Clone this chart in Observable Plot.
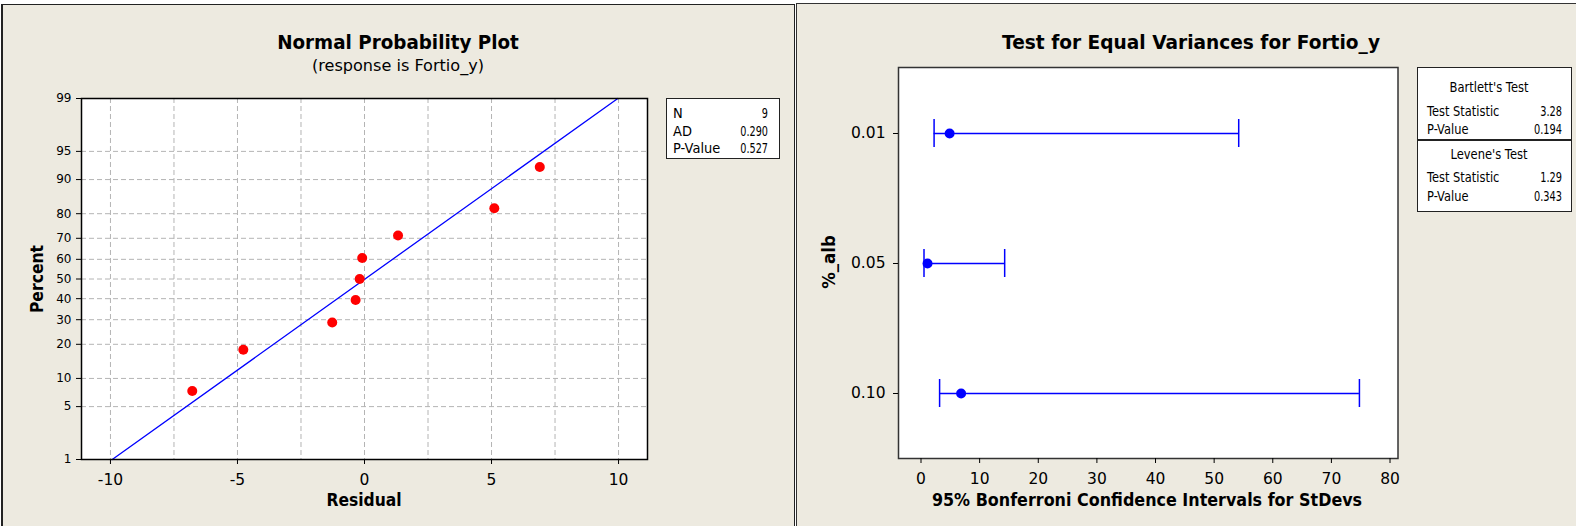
<!DOCTYPE html>
<html><head><meta charset="utf-8">
<script src="https://cdn.jsdelivr.net/npm/d3@7"></script>
<script src="https://cdn.jsdelivr.net/npm/@observablehq/plot@0.6"></script>
<style>
html,body{margin:0;padding:0;background:#fff;width:1576px;height:526px;overflow:hidden;font-family:"DejaVu Sans",sans-serif;}
.panel{position:absolute;box-sizing:border-box;background:#EDEAE0;}
.t{position:absolute;white-space:nowrap;line-height:1;color:#000;}
.b{font-weight:bold;}
.box{position:absolute;box-sizing:border-box;background:#fff;border:1px solid #222;}
.chart{position:absolute;top:0;}
</style></head><body>
<div class="panel" style="left:1px;top:4px;width:794px;height:522px;border-left:2px solid #222;border-top:1px solid #222;border-right:1px solid #222"></div>
<div class="panel" style="left:796px;top:3px;width:780px;height:523px;border-left:1px solid #333;border-top:1px solid #333"></div>
<div id="left" class="chart" style="left:0px"></div>
<div id="right" class="chart" style="left:796px"></div>
<div id="overlay"></div>
<script>
// ---------- data: normal probability plot ----------
const residuals = [-6.78, -4.77, -1.27, -0.35, -0.19, -0.09, 1.32, 5.11, 6.90];
const percents  = [7.45, 18.09, 28.72, 39.36, 50.00, 60.64, 71.28, 81.91, 92.55];
const fitResidual = [-9.93, 9.97];
const fitPercent  = [1, 99];
const yTickPercents = [1, 5, 10, 20, 30, 40, 50, 60, 70, 80, 90, 95, 99];
const xTicksLeft = [-10, -5, 0, 5, 10];
const xGridLeft = [-10, -7.5, -5, -2.5, 0, 2.5, 5, 7.5, 10];
const leftStatLabels = ["N", "AD", "P-Value"];
const leftStatValues = ["9", "0.290", "0.527"];

// ---------- data: test for equal variances ----------
const levels = ["0.01", "0.05", "0.10"];
const lowerCI = [2.23, 0.51, 3.17];
const stdevs  = [4.88, 1.11, 6.84];
const upperCI = [54.19, 14.27, 74.78];
const xTicksRight = [0, 10, 20, 30, 40, 50, 60, 70, 80];
const statLabels = ["Test Statistic", "P-Value"];
const bartlettValues = ["3.28", "0.194"];
const leveneValues = ["1.29", "0.343"];

// inverse normal CDF (Acklam) for the probability axis
function probit(p){
  const a=[-3.969683028665376e+01,2.209460984245205e+02,-2.759285104469687e+02,1.383577518672690e+02,-3.066479806614716e+01,2.506628277459239e+00];
  const b=[-5.447609879822406e+01,1.615858368580409e+02,-1.556989798598866e+02,6.680131188771972e+01,-1.328068155288572e+01];
  const c=[-7.784894002430293e-03,-3.223964580411365e-01,-2.400758277161838e+00,-2.549732539343734e+00,4.374664141464968e+00,2.938163982698783e+00];
  const d=[7.784695709041462e-03,3.224671290700398e-01,2.445134137142996e+00,3.754408661907416e+00];
  const pl=0.02425, ph=1-pl;
  if(p<pl){const q=Math.sqrt(-2*Math.log(p));return (((((c[0]*q+c[1])*q+c[2])*q+c[3])*q+c[4])*q+c[5])/((((d[0]*q+d[1])*q+d[2])*q+d[3])*q+1);}
  if(p<=ph){const q=p-0.5,r=q*q;return (((((a[0]*r+a[1])*r+a[2])*r+a[3])*r+a[4])*r+a[5])*q/(((((b[0]*r+b[1])*r+b[2])*r+b[3])*r+b[4])*r+1);}
  const q=Math.sqrt(-2*Math.log(1-p));return -(((((c[0]*q+c[1])*q+c[2])*q+c[3])*q+c[4])*q+c[5])/((((d[0]*q+d[1])*q+d[2])*q+d[3])*q+1);
}

const pts = residuals.map((r, i) => ({r, z: probit(percents[i] / 100)}));
const fit = fitResidual.map((r, i) => ({r, z: probit(fitPercent[i] / 100)}));
const zTicks = yTickPercents.map(p => probit(p / 100));
const zLabel = new Map(zTicks.map((z, i) => [z, String(yTickPercents[i])]));

const gridStyle = {stroke: "#b4b4b4", strokeOpacity: 1, strokeWidth: 1, strokeDasharray: "5,3"};

const leftPlot = Plot.plot({
  width: 790, height: 526,
  marginLeft: 81, marginRight: 143, marginTop: 98, marginBottom: 67,
  style: {background: "transparent", fontFamily: "DejaVu Sans", color: "#000", overflow: "visible"},
  x: {domain: [-11.14, 11.14]},
  y: {domain: [probit(0.01), probit(0.99)]},
  marks: [
    Plot.frame({fill: "#fff", stroke: null}),
    Plot.gridX(xGridLeft, gridStyle),
    Plot.gridY(zTicks.slice(1, -1), gridStyle),
    Plot.line(fit, {x: "r", y: "z", stroke: "#0000ff", strokeWidth: 1.3}),
    Plot.dot(pts, {x: "r", y: "z", r: 5, fill: "#ff0000", stroke: null}),
    Plot.frame({stroke: "#000", strokeWidth: 1.5}),
    Plot.axisX(xTicksLeft, {tickSize: 5, tickPadding: 9, fontSize: 15.5, tickFormat: d => String(d), label: null}),
    Plot.axisY(zTicks, {tickSize: 5, tickPadding: 5, fontSize: 12, tickFormat: z => zLabel.get(z), label: null})
  ]
});
document.getElementById("left").appendChild(leftPlot);

const rows = levels.map((level, i) => ({level, lo: lowerCI[i], s: stdevs[i], hi: upperCI[i]}));
const rightPlot = Plot.plot({
  width: 780, height: 526,
  marginLeft: 102, marginRight: 178.5, marginTop: 67, marginBottom: 68,
  style: {background: "transparent", fontFamily: "DejaVu Sans", color: "#000", overflow: "visible"},
  x: {domain: [-3.84, 81.36]},
  y: {type: "band", domain: levels, padding: 0},
  marks: [
    Plot.frame({fill: "#fff", stroke: null}),
    Plot.ruleY(rows, {y: "level", x1: "lo", x2: "hi", stroke: "#0000ff", strokeWidth: 1.5}),
    Plot.tickX(rows, {x: "lo", y: "level", insetTop: 51, insetBottom: 51, stroke: "#0000ff", strokeWidth: 1.5}),
    Plot.tickX(rows, {x: "hi", y: "level", insetTop: 51, insetBottom: 51, stroke: "#0000ff", strokeWidth: 1.5}),
    Plot.dot(rows, {x: "s", y: "level", r: 5, fill: "#0000ff", stroke: null}),
    Plot.frame({stroke: "#333", strokeWidth: 1.5}),
    Plot.axisX(xTicksRight, {tickSize: 5, tickPadding: 9, fontSize: 15.5, tickFormat: d => String(d), label: null}),
    Plot.axisY(levels, {tickSize: 5, tickPadding: 8, fontSize: 15.5, label: null})
  ]
});
document.getElementById("right").appendChild(rightPlot);

// ---------- text overlays ----------
const ov = document.getElementById("overlay");
// place a text; its horizontal scale is set so that the width of `ref` text (at this style) equals `target` px
function txt(s, x, y, anchor, size, opts) {
  opts = opts || {};
  const e = document.createElement("div");
  e.className = "t" + (opts.bold ? " b" : "");
  e.textContent = s;
  e.style.left = x + "px"; e.style.top = y + "px"; e.style.fontSize = size + "px";
  ov.appendChild(e);
  let sx = 1;
  if (opts.target) {
    let w = e.offsetWidth;
    if (opts.ref && opts.ref !== s) {
      const m = e.cloneNode(); m.textContent = opts.ref; ov.appendChild(m); w = m.offsetWidth; ov.removeChild(m);
    }
    sx = opts.target / w;
  }
  if (anchor === "l") { e.style.transformOrigin = "0 50%"; e.style.transform = `translate(0,-50%) scaleX(${sx})`; }
  else if (anchor === "r") { e.style.transformOrigin = "100% 50%"; e.style.transform = `translate(-100%,-50%) scaleX(${sx})`; }
  else if (anchor === "rot") { e.style.transform = `translate(-50%,-50%) rotate(-90deg) scaleX(${sx})`; }
  else { e.style.transform = `translate(-50%,-50%) scaleX(${sx})`; }
  return e;
}
function box(x, y, w, h, extra) {
  const e = document.createElement("div");
  e.className = "box";
  Object.assign(e.style, {left: x + "px", top: y + "px", width: w + "px", height: h + "px"}, extra || {});
  ov.appendChild(e);
}
// left panel
txt("Normal Probability Plot", 398, 41.5, "c", 19, {bold: true, target: 242});
txt("(response is Fortio_y)", 398, 66, "c", 16, {target: 172});
txt("Residual", 364, 500, "c", 17, {bold: true, target: 75});
txt("Percent", 37, 279, "rot", 17, {bold: true, target: 68});
box(666, 98, 114, 61);
leftStatLabels.forEach((s, i) => {
  txt(s, 673, 114 + i * 17.5, "l", 13.5, {target: 47.3, ref: "P-Value"});
  txt(leftStatValues[i], 768, 114 + i * 17.5, "r", 13.5, {target: 28, ref: "0.527"});
});
// right panel
txt("Test for Equal Variances for Fortio_y", 1191, 41.5, "c", 19, {bold: true, target: 378});
txt("95% Bonferroni Confidence Intervals for StDevs", 1146.5, 500, "c", 17, {bold: true, target: 430});
txt("%_alb", 830, 262, "rot", 17.5, {bold: true, target: 54});
box(1417, 67, 155, 145);
box(1417, 139, 155, 2, {border: "none", background: "#222"});
txt("Bartlett's Test", 1489, 88, "c", 13.5, {target: 79.3});
txt("Levene's Test", 1489, 154.5, "c", 13.5, {target: 79.3, ref: "Bartlett's Test"});
statLabels.forEach((s, i) => {
  txt(s, 1427, 111.7 + i * 18.5, "l", 13.5, {target: 72.7, ref: "Test Statistic"});
  txt(bartlettValues[i], 1562, 111.7 + i * 18.5, "r", 13.5, {target: 28.3, ref: "0.194"});
  txt(s, 1427, 177.7 + i * 19, "l", 13.5, {target: 72.7, ref: "Test Statistic"});
  txt(leveneValues[i], 1562, 177.7 + i * 19, "r", 13.5, {target: 28.3, ref: "0.194"});
});
</script>
</body></html>
